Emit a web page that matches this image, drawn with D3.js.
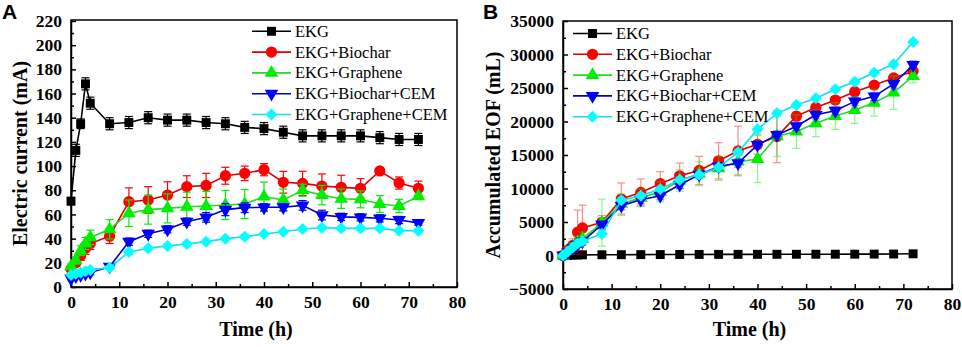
<!DOCTYPE html>
<html>
<head>
<meta charset="utf-8">
<script src="https://cdn.jsdelivr.net/npm/d3@7/dist/d3.min.js"></script>
<style>
    body { margin: 0; background: #fff; }
    text { font-family: "Liberation Serif", "Times New Roman", serif; }
    .tick text { font-weight: bold; font-size: 17.5px; }
    .axis path, .axis line { stroke: #000; stroke-width: 1.5px; }
    .title { font-weight: bold; font-size: 20px; }
    .legend text { font-size: 16.5px; }
    .panel { font-family: "Liberation Sans", Arial, sans-serif; font-weight: bold; font-size: 21px; }
</style>
</head>
<body>
<script>

    var time = [0, 1, 2, 3, 4, 8, 12, 16, 20, 24, 28, 32, 36, 40, 44, 48, 52, 56, 60, 64, 68, 72];
    var names = ["EKG", "EKG+Biochar", "EKG+Graphene", "EKG+Biochar+CEM", "EKG+Graphene+CEM"];

    // A: electric current (mA)
    var ekgA = [71, 113, 135, 168, 152, 135, 136, 140, 138, 138, 136, 135, 132, 131, 128, 125, 125, 125, 125, 123.5, 122, 122];
    var bioA = [15, 20, 26, 32, 36, 42, 70.5, 72, 76, 83, 84, 92, 94, 97, 86.6, 85.7, 83.5, 82.4, 81.6, 96, 86, 81.6];
    var graA = [17, 22, 30, 36, 41, 47.7, 61, 64, 65, 66.4, 67, 67.8, 68.6, 74.7, 72, 80, 76, 73, 72.5, 68.6, 67, 75];
    var bcA  = [7, 9, 10, 11, 12, 16.8, 37.5, 44, 47.7, 54, 57.6, 64, 65.6, 65.9, 66, 67.5, 59.5, 58, 57.6, 56.8, 55.4, 53];
    var gcA  = [10, 11, 12, 13, 14, 16, 29, 32, 34, 35.5, 37.5, 40, 41.6, 43.8, 45.7, 48, 49, 48.5, 48.5, 48.5, 46.6, 46.6];

    var ekgErrA = [3, 5, 4, 5, 5, 5, 5, 5, 5, 5, 5, 5, 5, 5, 5, 5, 5, 5, 5, 5, 5, 5];
    var bioErrA = [2, 3, 4, 5, 5, 6, 11.5, 11, 11, 9, 10, 7, 6, 5, 9, 10, 10, 10, 8, 1, 5, 6];
    var graErrA = [2, 3, 4, 5, 6, 8, 11, 12, 12, 12, 12, 12, 12, 12, 9, 5, 8, 8, 7, 7, 5.5, 2];
    var bcErrA  = [1, 1, 2, 2, 2, 2, 3, 3, 3, 3, 4, 5, 4, 3, 3, 4, 4, 3, 3, 3, 3, 2];
    var gcErrA  = [1, 1, 1, 1, 1, 1, 2, 1.5, 1.5, 1.5, 1.5, 1.5, 1.5, 1.5, 1.5, 1.5, 1.5, 1.5, 1.5, 1.5, 1.5, 1.5];

    // B: accumulated EOF (mL)
    var ekgB = [0, 30, 60, 80, 100, 110, 120, 130, 140, 150, 160, 165, 170, 175, 180, 185, 190, 195, 200, 210, 220, 250];
    var bioB = [0, 800, 1500, 3470, 4110, 4950, 8430, 9420, 10710, 11900, 12690, 14130, 15600, 16600, 17750, 20800, 22100, 23200, 24440, 25430, 26500, 27500];
    var graB = [0, 700, 1300, 2000, 2500, 4900, 7700, 8600, 9500, 11200, 12200, 13000, 14000, 14400, 17800, 18500, 19740, 20820, 21720, 22800, 24300, 26770];
    var bcB  = [0, 500, 1100, 1600, 2100, 4610, 7440, 8330, 8920, 10560, 12050, 13290, 13790, 16510, 18000, 19300, 21000, 21600, 23000, 23750, 25600, 28450];
    var gcB  = [0, 600, 1200, 1800, 2130, 3230, 8230, 8920, 9920, 11300, 12050, 13190, 15400, 18840, 21220, 22460, 23460, 24800, 25930, 27270, 28560, 31880];

    var ekgErrB = [0, 0, 0, 0, 0, 0, 0, 0, 0, 0, 0, 0, 0, 0, 0, 0, 0, 0, 0, 0, 0, 0];
    var bioErrB = [0, 500, 1000, 3300, 3400, 1000, 2400, 2000, 1800, 1900, 2100, 2700, 3700, 1500, 3900, 600, 500, 500, 500, 500, 500, 800];
    var graErrB = [0, 300, 500, 800, 1000, 3500, 1500, 1300, 1500, 1600, 1800, 1800, 1900, 3500, 3000, 2500, 2000, 2000, 2000, 2000, 2500, 1000];
    var bcErrB  = [0, 200, 300, 400, 500, 600, 600, 600, 600, 600, 600, 600, 600, 600, 600, 600, 600, 600, 600, 600, 600, 600];
    var gcErrB  = [0, 200, 300, 400, 400, 500, 400, 400, 400, 400, 400, 400, 400, 400, 400, 400, 400, 400, 400, 400, 400, 400];

    var lineColors = ["#000", "#e00000", "#22dd22", "#0000cc", "#11ddee"];
    var markColors = ["#000", "#ff0000", "#00ee00", "#0000ff", "#00ffff"];
    var shapes = [
        { type: d3.symbolSquare, size: 80, rot: 0 },
        { type: d3.symbolCircle, size: 100, rot: 0 },
        { type: d3.symbolTriangle, size: 80, rot: 0 },
        { type: d3.symbolTriangle, size: 80, rot: 180 },
        { type: d3.symbolSquare, size: 72, rot: 45 }
    ];

    var svg = d3.select("body").append("svg")
        .attr("width", 962)
        .attr("height", 347);

    function drawPanel(cfg) {
        var x = d3.scaleLinear().domain([0, 80]).range([cfg.left, cfg.right]);
        var y = d3.scaleLinear().domain(cfg.yDomain).range([cfg.bottom, cfg.top]);
        var g = svg.append("g");

        // minor ticks
        g.append("g").attr("class", "axis")
            .attr("transform", "translate(0," + cfg.bottom + ")")
            .call(d3.axisBottom(x).tickValues(d3.range(5, 80, 10)).tickSize(-3).tickFormat(""))
            .select(".domain").remove();
        g.append("g").attr("class", "axis")
            .attr("transform", "translate(" + cfg.left + ",0)")
            .call(d3.axisLeft(y).tickValues(cfg.yMinor).tickSize(-3).tickFormat(""))
            .select(".domain").remove();

        g.append("g").attr("class", "axis")
            .attr("transform", "translate(0," + cfg.bottom + ")")
            .call(d3.axisBottom(x).tickValues(d3.range(0, 81, 10)).tickSize(-5).tickSizeOuter(0).tickPadding(9));
        g.append("g").attr("class", "axis")
            .attr("transform", "translate(" + cfg.left + ",0)")
            .call(d3.axisLeft(y).tickValues(cfg.yMajor).tickFormat(d3.format("d"))
                .tickSize(-5).tickSizeOuter(0).tickPadding(9));

        g.append("rect")
            .attr("x", cfg.left).attr("y", cfg.top)
            .attr("width", cfg.right - cfg.left).attr("height", cfg.bottom - cfg.top)
            .attr("fill", "none").attr("stroke", "#000").attr("stroke-width", 1.5);

        var line = d3.line().x(function (d) { return x(d[0]); }).y(function (d) { return y(d[1]); });

        cfg.series.forEach(function (vals, i) {
            var errs = cfg.errors[i];
            var pts = time.map(function (t, k) { return [t, vals[k], errs[k]]; });
            var s = g.append("g");

            var eb = s.append("g")
                .attr("stroke", markColors[i])
                .attr("stroke-width", 1.2)
                .attr("opacity", cfg.errOpacity);
            pts.filter(function (d) { return d[2] > 0; }).forEach(function (d) {
                var cx = x(d[0]), y0 = y(d[1] - d[2]), y1 = y(d[1] + d[2]);
                eb.append("line").attr("x1", cx).attr("x2", cx).attr("y1", y0).attr("y2", y1);
                eb.append("line").attr("x1", cx - 4).attr("x2", cx + 4).attr("y1", y0).attr("y2", y0);
                eb.append("line").attr("x1", cx - 4).attr("x2", cx + 4).attr("y1", y1).attr("y2", y1);
            });

            s.append("path").attr("d", line(pts))
                .attr("fill", "none").attr("stroke", lineColors[i]).attr("stroke-width", 1.6);

            var sym = d3.symbol().type(shapes[i].type).size(shapes[i].size);
            s.selectAll("path.mark").data(pts).enter().append("path")
                .attr("class", "mark")
                .attr("d", sym)
                .attr("transform", function (d) {
                    return "translate(" + x(d[0]) + "," + y(d[1]) + ") rotate(" + shapes[i].rot + ")";
                })
                .attr("fill", markColors[i]);
        });

        // legend
        var lg = g.append("g").attr("class", "legend");
        names.forEach(function (n, i) {
            var by = cfg.legY + i * 20.8;
            lg.append("line")
                .attr("x1", cfg.legX).attr("x2", cfg.legX + 39)
                .attr("y1", by - 5.5).attr("y2", by - 5.5)
                .attr("stroke", lineColors[i]).attr("stroke-width", 1.6);
            lg.append("path")
                .attr("d", d3.symbol().type(shapes[i].type).size(shapes[i].size)())
                .attr("transform", "translate(" + (cfg.legX + 19.5) + "," + (by - 5.5) + ") rotate(" + shapes[i].rot + ")")
                .attr("fill", markColors[i]);
            lg.append("text").attr("x", cfg.legX + 43).attr("y", by).text(n);
        });

        g.append("text").attr("class", "title")
            .attr("x", (cfg.left + cfg.right) / 2 - 8).attr("y", 336)
            .attr("text-anchor", "middle").text("Time (h)");
        g.append("text").attr("class", "title")
            .attr("transform", "translate(" + cfg.titleX + "," + (cfg.top + cfg.bottom) / 2 + ") rotate(-90)")
            .attr("text-anchor", "middle").text(cfg.yTitle);
        g.append("text").attr("class", "panel")
            .attr("x", cfg.panelX).attr("y", 19).text(cfg.panel);
    }

    drawPanel({
        left: 71, right: 457, top: 20, bottom: 287,
        yDomain: [0, 220.8],
        yMajor: d3.range(0, 221, 20), yMinor: d3.range(10, 220, 20),
        series: [ekgA, bioA, graA, bcA, gcA],
        errors: [ekgErrA, bioErrA, graErrA, bcErrA, gcErrA],
        errOpacity: 1,
        legX: 252, legY: 36.8,
        titleX: 27, yTitle: "Electric current (mA)",
        panel: "A", panelX: 2
    });

    drawPanel({
        left: 563, right: 952, top: 21, bottom: 289,
        yDomain: [-5000, 35000],
        yMajor: d3.range(-5000, 35001, 5000), yMinor: d3.range(-2500, 35000, 5000),
        series: [ekgB, bioB, graB, bcB, gcB],
        errors: [ekgErrB, bioErrB, graErrB, bcErrB, gcErrB],
        errOpacity: 0.45,
        legX: 573, legY: 39,
        titleX: 500, yTitle: "Accumulated EOF (mL)",
        panel: "B", panelX: 483
    });

</script>
</body>
</html>
